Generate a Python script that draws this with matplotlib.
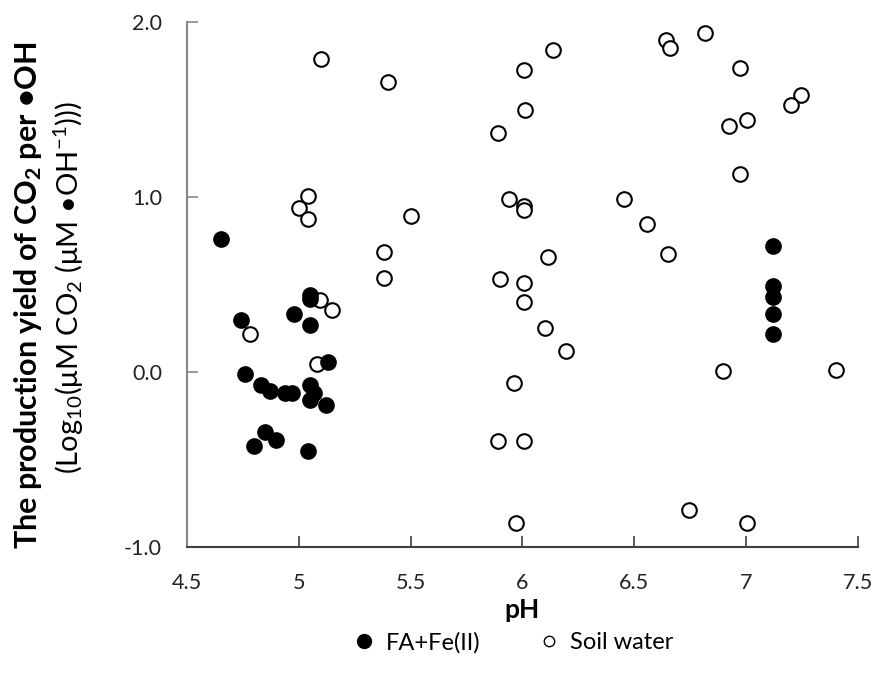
import numpy as np
import matplotlib.pyplot as plt
from matplotlib.lines import Line2D

plt.rcParams['font.family'] = ['Lato', 'DejaVu Sans']
plt.rcParams['mathtext.fontset'] = 'custom'
plt.rcParams['mathtext.rm'] = 'Lato'
plt.rcParams['mathtext.bf'] = 'Lato:bold'
plt.rcParams['mathtext.it'] = 'Lato:italic'

# FA+Fe(II) (filled)
fa_ph = [4.65, 5.05, 5.05, 4.74, 4.98, 5.05, 5.13, 4.76, 4.83, 4.87, 4.94, 4.97,
         5.05, 5.07, 5.05, 5.12, 4.85, 4.90, 4.80, 5.04,
         7.12, 7.12, 7.12, 7.12, 7.12]
fa_y = [0.76, 0.44, 0.42, 0.30, 0.33, 0.27, 0.06, -0.01, -0.075, -0.11, -0.12, -0.12,
        -0.075, -0.12, -0.16, -0.19, -0.34, -0.39, -0.42, -0.45,
        0.72, 0.49, 0.43, 0.33, 0.22]

# Soil water (open)
sw_ph = [5.10, 5.40, 6.005, 6.01, 5.89, 5.04, 5.00, 5.04, 5.50, 5.38, 5.94, 6.005, 6.005,
         6.135, 6.64, 6.66, 6.816, 6.974, 7.246, 7.20, 7.004, 6.925, 6.974, 6.454, 6.555,
         6.652, 6.114, 5.381, 5.90, 6.005, 6.005, 5.094, 5.15, 4.78, 5.08, 5.962, 5.89,
         6.005, 5.97, 6.099, 6.194, 6.896, 7.404, 6.745, 7.004]
sw_y = [1.79, 1.66, 1.73, 1.50, 1.37, 1.01, 0.94, 0.875, 0.895, 0.685, 0.99, 0.95, 0.93,
        1.845, 1.90, 1.855, 1.94, 1.74, 1.585, 1.53, 1.44, 1.41, 1.135, 0.99, 0.85,
        0.675, 0.66, 0.54, 0.535, 0.51, 0.40, 0.41, 0.355, 0.22, 0.045, -0.06, -0.395,
        -0.395, -0.86, 0.25, 0.12, 0.005, 0.015, -0.79, -0.865]

x_ticks = [4.5, 5, 5.5, 6, 6.5, 7, 7.5]
x_labels = ['4.5', '5', '5.5', '6', '6.5', '7', '7.5']
y_ticks = [-1.0, 0.0, 1.0, 2.0]

fig = plt.figure(figsize=(8.77, 6.73), dpi=100)
ax = fig.add_axes([0.2132, 0.1872, 0.765, 0.7794])

ax.plot(sw_ph, sw_y, linestyle='', marker='o', markersize=10.5,
        markerfacecolor='white', markeredgecolor='black', markeredgewidth=1.5, zorder=3)
ax.plot(fa_ph, fa_y, linestyle='', marker='o', markersize=10.5,
        markerfacecolor='black', markeredgecolor='black', markeredgewidth=1.5, zorder=4)

ax.set_xlim(4.5, 7.5)
ax.set_ylim(-1.0, 2.0)
ax.set_xticks(x_ticks)
ax.set_xticklabels(x_labels)
ax.set_yticks(y_ticks)
ax.set_yticklabels([f'{v:.1f}' for v in y_ticks])

for s in ['top', 'right']:
    ax.spines[s].set_visible(False)
ax.spines['left'].set_color('#888888')
ax.spines['left'].set_linewidth(1.5)
ax.spines['bottom'].set_color('#404040')
ax.spines['bottom'].set_linewidth(1.5)
ax.tick_params(axis='x', direction='in', length=8, width=1.2, color='#404040',
               labelsize=15.5, pad=19, labelcolor='#222222')
ax.tick_params(axis='y', direction='in', length=8, width=1.2, color='#888888',
               labelsize=15.5, pad=18, labelcolor='#222222')

ax.set_xlabel('pH', fontsize=19, fontweight='bold', labelpad=3)

fig.text(0.032, 0.5617, r'The production yield of CO$_\mathbf{2}$ per •OH', rotation=90,
         fontsize=22, fontweight='bold', ha='center', va='center')
fig.text(0.079, 0.572, r'(Log$_{10}$(μM CO$_2$ (μM •OH$^{-1}$)))', rotation=90,
         fontsize=21, ha='center', va='center')

handles = [Line2D([], [], linestyle='', marker='o', markersize=10, markerfacecolor='black',
                  markeredgecolor='black'),
           Line2D([], [], linestyle='', marker='o', markersize=7.5, markerfacecolor='white',
                  markeredgecolor='black', markeredgewidth=1.0)]
fig.legend(handles, ['FA+Fe(II)', 'Soil water'], loc='center', bbox_to_anchor=(0.582, 0.045),
           ncol=2, frameon=False, fontsize=17, handlelength=1.4, handletextpad=0.2,
           columnspacing=2.2)

fig.savefig('out.png', dpi=100)
